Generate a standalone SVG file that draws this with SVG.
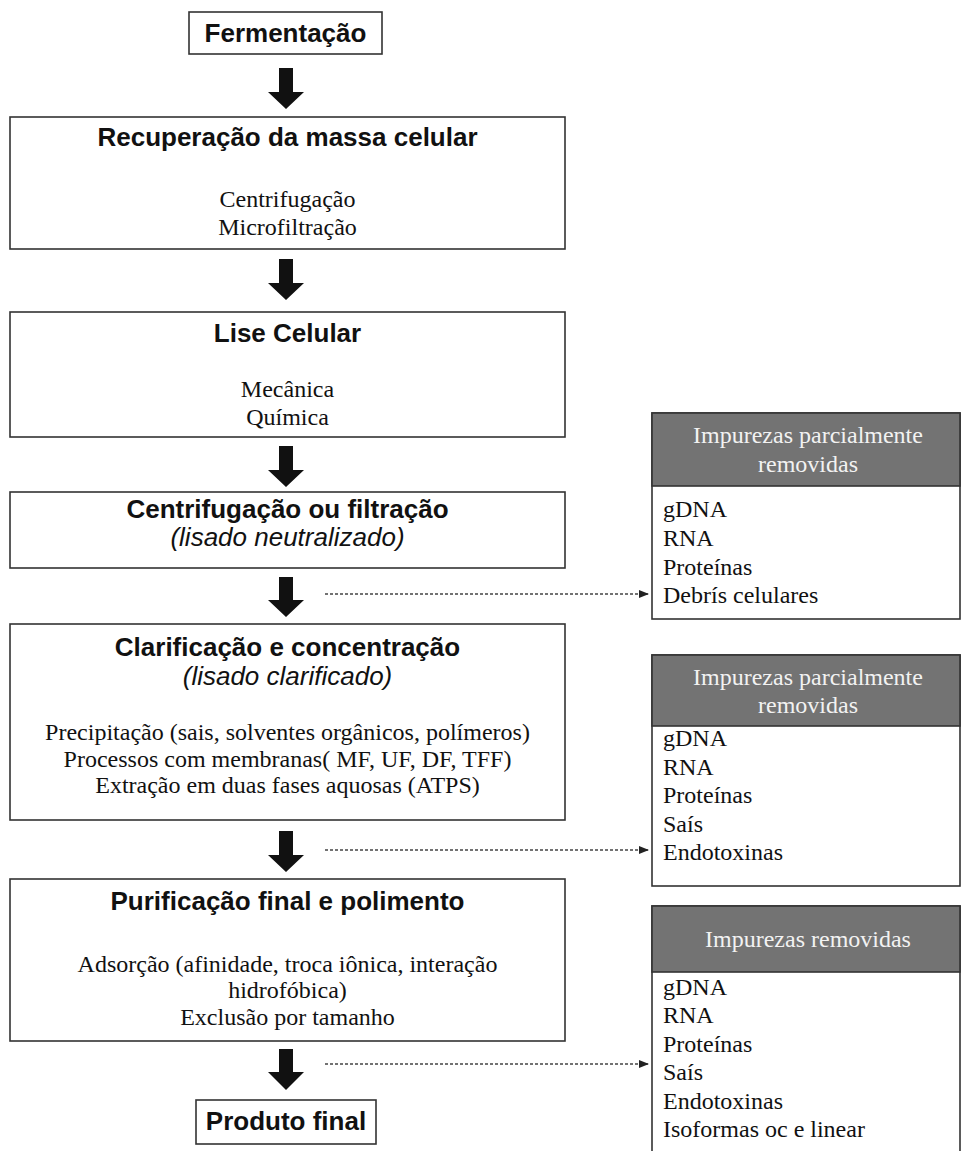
<svg xmlns="http://www.w3.org/2000/svg" width="962" height="1151" viewBox="0 0 962 1151">
<style>
.box{fill:#fff;stroke:#333;stroke-width:1.6}
.hdr{fill:#737373;stroke:#333;stroke-width:1.6}
.t{font-family:"Liberation Sans",Arial,sans-serif;font-weight:bold;font-size:26px;fill:#111;text-anchor:middle}
.i{font-family:"Liberation Sans",Arial,sans-serif;font-style:italic;font-size:26px;fill:#111;text-anchor:middle}
.s{font-family:"Liberation Serif","Times New Roman",serif;font-size:24px;fill:#111;text-anchor:middle}
.l{font-family:"Liberation Serif","Times New Roman",serif;font-size:24px;fill:#111}
.h{font-family:"Liberation Serif","Times New Roman",serif;font-size:24px;fill:#f2f2f2;text-anchor:middle}
.arr{fill:#111}
.dash{stroke:#444;stroke-width:1.3;stroke-dasharray:3 2;fill:none}
</style>
<defs>
<marker id="ah" markerWidth="10" markerHeight="8" refX="9" refY="4" orient="auto" markerUnits="userSpaceOnUse">
<path d="M0,0 L10,4 L0,8 Z" fill="#222"/>
</marker>
</defs>
<rect width="962" height="1151" fill="#fff"/>

<g id="fermentacao">
<rect class="box" x="189" y="12" width="193" height="42"/>
<text class="t" x="285.5" y="42">Fermentação</text>
</g>

<g id="recuperacao">
<rect class="box" x="10" y="117" width="555" height="132"/>
<text class="t" x="287.5" y="146">Recuperação da massa celular</text>
<text class="s" x="287.5" y="207">Centrifugação</text>
<text class="s" x="287.5" y="235">Microfiltração</text>
</g>

<g id="lise">
<rect class="box" x="10" y="312" width="555" height="125"/>
<text class="t" x="287.5" y="342">Lise Celular</text>
<text class="s" x="287.5" y="397">Mecânica</text>
<text class="s" x="287.5" y="425">Química</text>
</g>

<g id="centrifugacao">
<rect class="box" x="10" y="492" width="555" height="76"/>
<text class="t" x="287.5" y="518">Centrifugação ou filtração</text>
<text class="i" x="287.5" y="546">(lisado neutralizado)</text>
</g>

<g id="clarificacao">
<rect class="box" x="10" y="624" width="555" height="196"/>
<text class="t" x="287.5" y="656">Clarificação e concentração</text>
<text class="i" x="287.5" y="685">(lisado clarificado)</text>
<text class="s" x="287.5" y="740">Precipitação (sais, solventes orgânicos, polímeros)</text>
<text class="s" x="287.5" y="767">Processos com membranas( MF, UF, DF, TFF)</text>
<text class="s" x="287.5" y="793">Extração em duas fases aquosas (ATPS)</text>
</g>

<g id="purificacao">
<rect class="box" x="10" y="879" width="555" height="162"/>
<text class="t" x="287.5" y="910">Purificação final e polimento</text>
<text class="s" x="287.5" y="972">Adsorção (afinidade, troca iônica, interação</text>
<text class="s" x="287.5" y="998">hidrofóbica)</text>
<text class="s" x="287.5" y="1025">Exclusão por tamanho</text>
</g>

<g id="produto">
<rect class="box" x="196" y="1100" width="180" height="44"/>
<text class="t" x="286" y="1130">Produto final</text>
</g>

<g id="impurezas1">
<rect class="box" x="652" y="413" width="308" height="206"/>
<rect class="hdr" x="652" y="413" width="308" height="73"/>
<text class="h" x="808" y="443">Impurezas parcialmente</text>
<text class="h" x="808" y="472">removidas</text>
<text class="l" x="663" y="517">gDNA</text>
<text class="l" x="663" y="546">RNA</text>
<text class="l" x="663" y="575">Proteínas</text>
<text class="l" x="663" y="603">Debrís celulares</text>
</g>

<g id="impurezas2">
<rect class="box" x="652" y="655" width="308" height="231"/>
<rect class="hdr" x="652" y="655" width="308" height="71"/>
<text class="h" x="808" y="685">Impurezas parcialmente</text>
<text class="h" x="808" y="713">removidas</text>
<text class="l" x="663" y="746">gDNA</text>
<text class="l" x="663" y="775">RNA</text>
<text class="l" x="663" y="803">Proteínas</text>
<text class="l" x="663" y="832">Saís</text>
<text class="l" x="663" y="860">Endotoxinas</text>
</g>

<g id="impurezas3">
<rect class="box" x="652" y="906" width="308" height="260"/>
<rect class="hdr" x="652" y="906" width="308" height="66"/>
<text class="h" x="808" y="947">Impurezas removidas</text>
<text class="l" x="663" y="995">gDNA</text>
<text class="l" x="663" y="1023">RNA</text>
<text class="l" x="663" y="1052">Proteínas</text>
<text class="l" x="663" y="1080">Saís</text>
<text class="l" x="663" y="1109">Endotoxinas</text>
<text class="l" x="663" y="1137">Isoformas oc e linear</text>
</g>

<g id="connectors">
<path class="arr" d="M279,68 H293 V92 H304 L286,109 L268,92 H279 Z"/>
<path class="arr" d="M279,259 H293 V283 H304 L286,300 L268,283 H279 Z"/>
<path class="arr" d="M279,446 H293 V470 H304 L286,487 L268,470 H279 Z"/>
<path class="arr" d="M279,577 H293 V600 H304 L286,617 L268,600 H279 Z"/>
<path class="arr" d="M279,831 H293 V855 H304 L286,872 L268,855 H279 Z"/>
<path class="arr" d="M279,1049 H293 V1072 H304 L286,1090 L268,1072 H279 Z"/>
<line class="dash" x1="325" y1="594" x2="648" y2="594" marker-end="url(#ah)"/>
<line class="dash" x1="325" y1="850" x2="648" y2="850" marker-end="url(#ah)"/>
<line class="dash" x1="325" y1="1064" x2="648" y2="1064" marker-end="url(#ah)"/>
</g>
</svg>
